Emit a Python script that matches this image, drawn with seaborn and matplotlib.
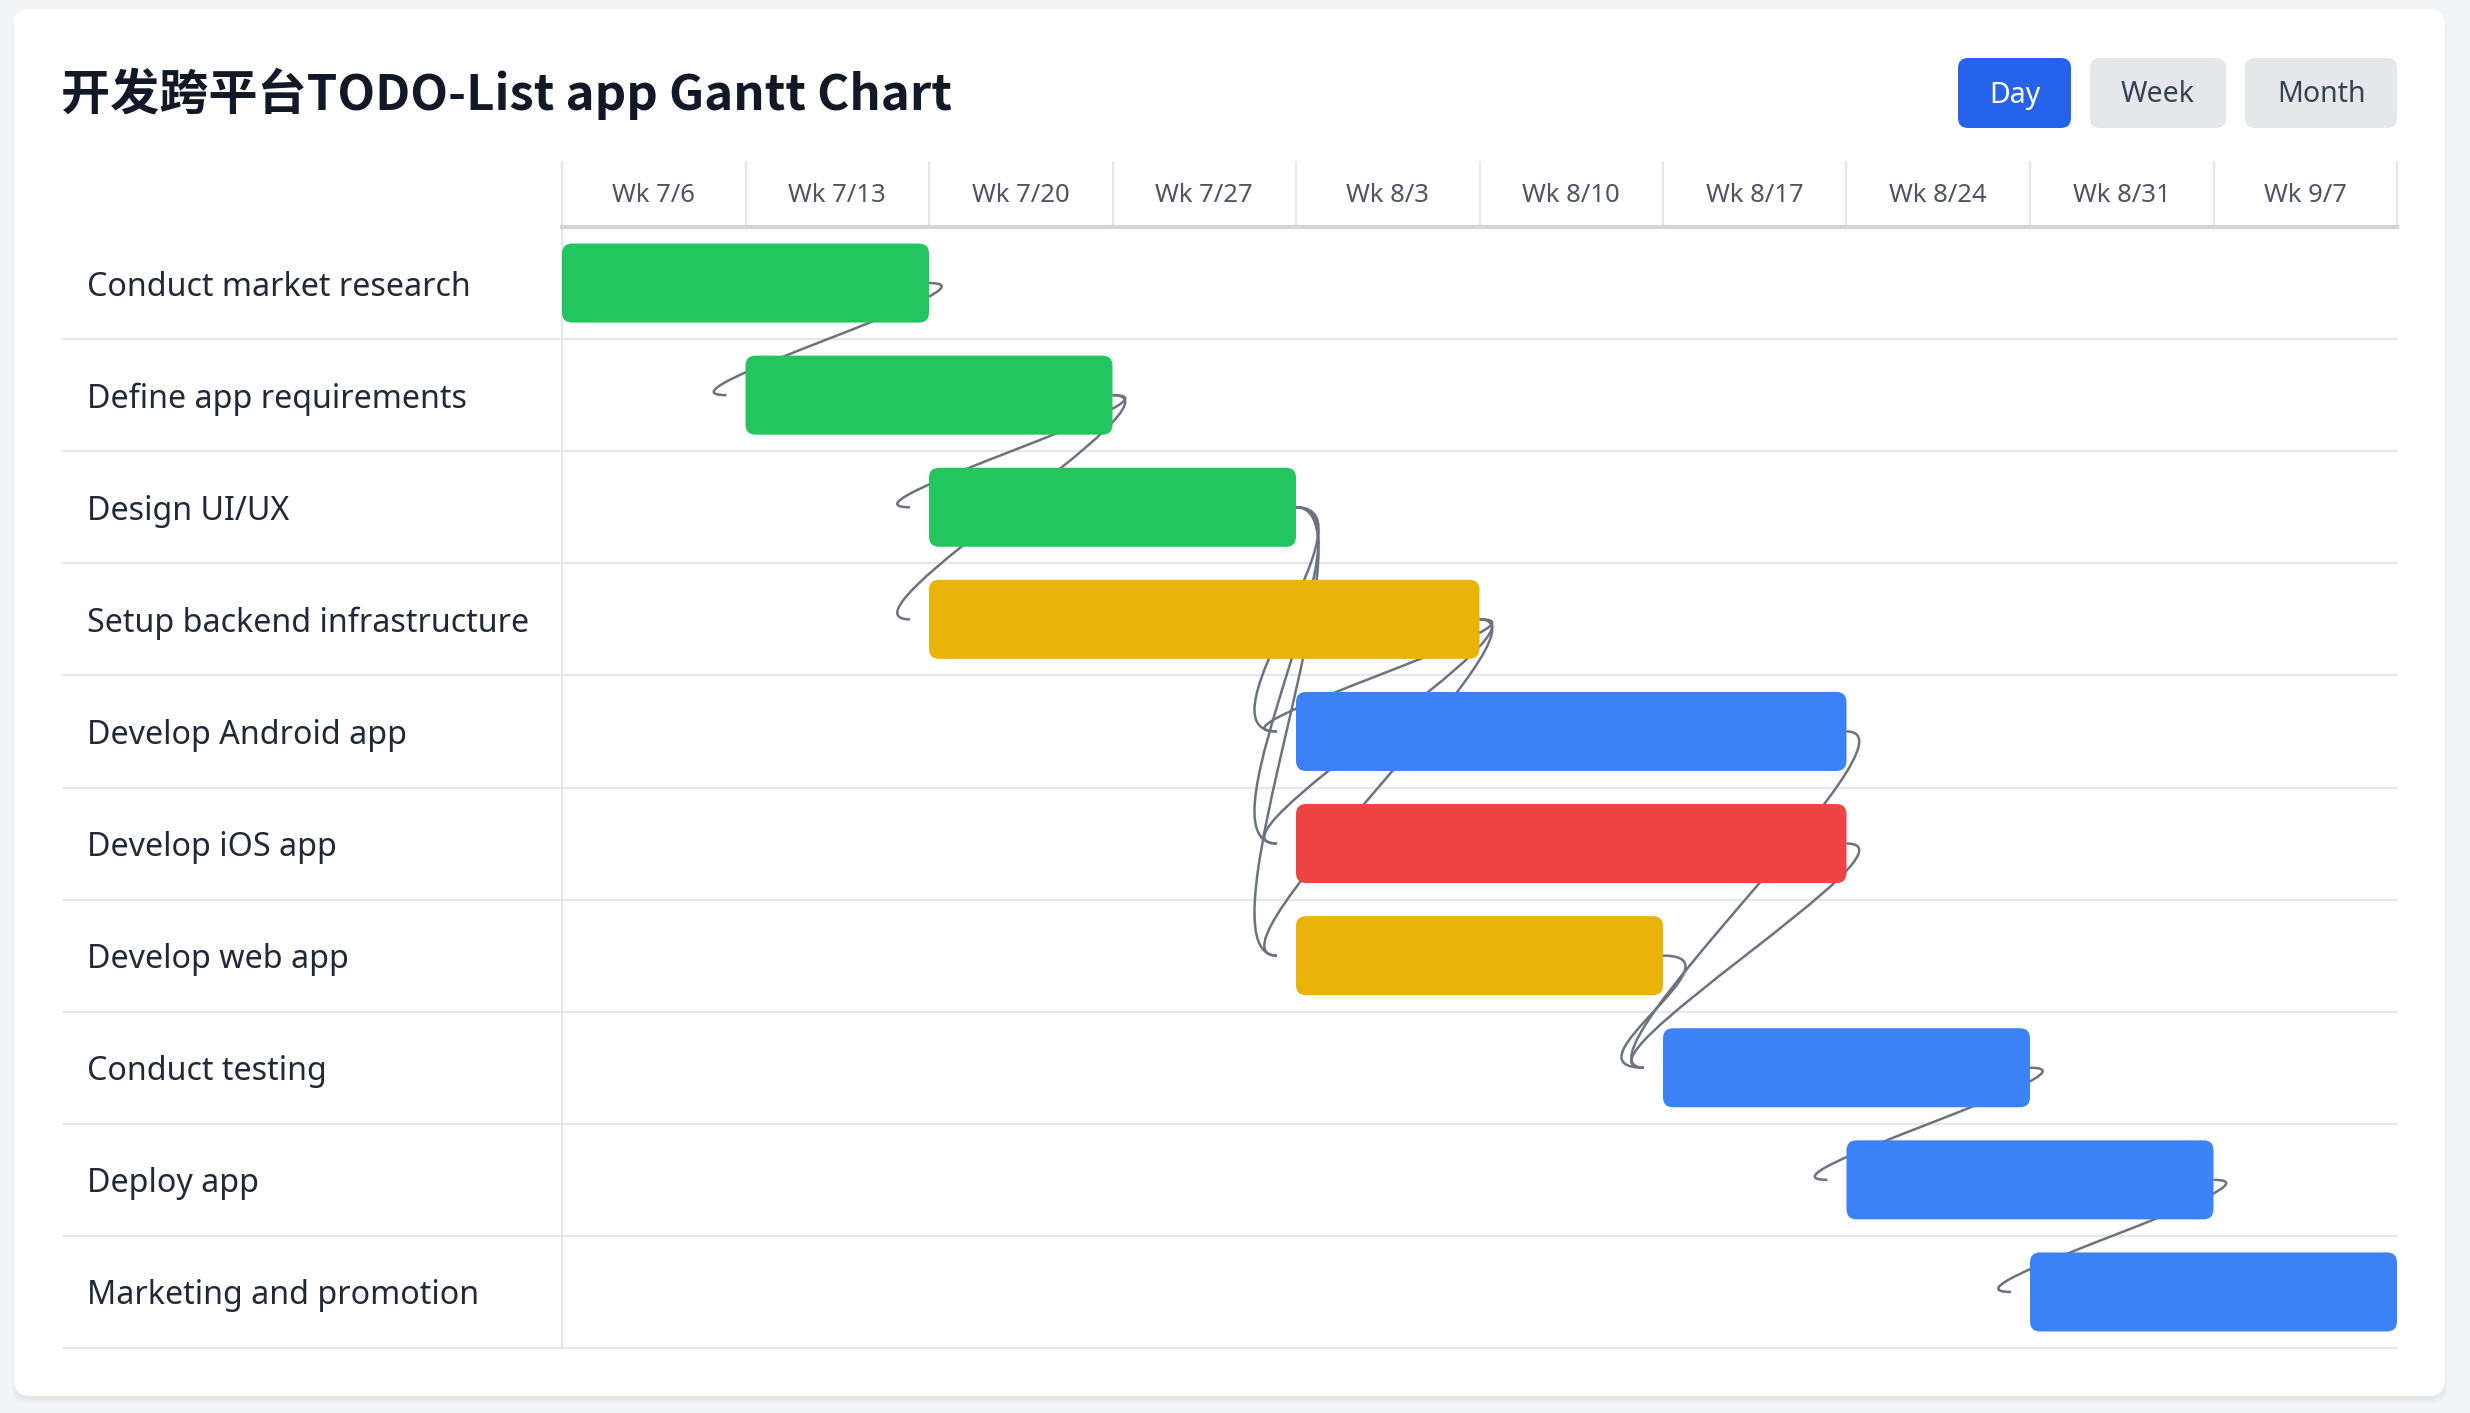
import numpy as np
import pandas as pd
import matplotlib
matplotlib.use('Agg')
import matplotlib.pyplot as plt
import seaborn as sns
from matplotlib.patches import FancyBboxPatch, PathPatch
from matplotlib.path import Path
from matplotlib.transforms import IdentityTransform, blended_transform_factory

# chart data
tasks = ['Conduct market research', 'Define app requirements', 'Design UI/UX',
         'Setup backend infrastructure', 'Develop Android app', 'Develop iOS app',
         'Develop web app', 'Conduct testing', 'Deploy app', 'Marketing and promotion']
start_dates = ['2025-07-06', '2025-07-13', '2025-07-20', '2025-07-20', '2025-08-03',
               '2025-08-03', '2025-08-03', '2025-08-17', '2025-08-24', '2025-08-31']
end_dates = ['2025-07-20', '2025-07-27', '2025-08-03', '2025-08-10', '2025-08-24',
             '2025-08-24', '2025-08-17', '2025-08-31', '2025-09-07', '2025-09-14']
bar_colors = ['#22C55E', '#22C55E', '#22C55E', '#EAB308', '#3B82F6', '#EF4444',
              '#EAB308', '#3B82F6', '#3B82F6', '#3B82F6']
# (predecessor, successor) pairs by task index
dependencies = [(0, 1), (1, 2), (1, 3), (2, 4), (2, 5), (2, 6), (3, 4), (3, 5), (3, 6),
                (4, 7), (5, 7), (6, 7), (7, 8), (8, 9)]
week_labels = ['Wk 7/6', 'Wk 7/13', 'Wk 7/20', 'Wk 7/27', 'Wk 8/3',
               'Wk 8/10', 'Wk 8/17', 'Wk 8/24', 'Wk 8/31', 'Wk 9/7']
view_buttons = ['Day', 'Week', 'Month']
title = '开发跨平台TODO-List app Gantt Chart'

chart_start = pd.Timestamp('2025-07-06')
chart_end = pd.Timestamp('2025-09-14')

df = pd.DataFrame({'task': tasks,
                   'start': (pd.to_datetime(start_dates) - chart_start).days,
                   'end': (pd.to_datetime(end_dates) - chart_start).days})
df['dur'] = df['end'] - df['start']
n_days = (chart_end - chart_start).days

sns.set_theme(style='white')
plt.rcParams['font.family'] = ['Noto Sans', 'Noto Sans CJK SC', 'DejaVu Sans']

W, H = 2470, 1413
fig = plt.figure(figsize=(W / 100, H / 100), dpi=100)
fig.patch.set_facecolor('#F3F4F6')


def px_box(x0, y0, x1, y1, r, **kw):
    # rounded box in output pixels, y measured from the top
    p = FancyBboxPatch((x0, H - y1), x1 - x0, y1 - y0,
                       boxstyle='round,pad=0,rounding_size=%s' % r,
                       transform=IdentityTransform(), **kw)
    fig.add_artist(p)
    return p


# card with a soft shadow
for i, a in enumerate([0.05, 0.05, 0.06]):
    px_box(14 - 2 + i, 9 + 4 - i, 2445 + 2 - i, 1396 + 8 - 2 * i, 18, facecolor='#9CA3AF',
           edgecolor='none', alpha=a, zorder=-3)
px_box(14, 9, 2445, 1396, 16, facecolor='white', edgecolor='none', zorder=-2)

# title
fig.text(61 / W, 1 - 94 / H, title, fontsize=35.4, fontweight='bold', color='#111827',
         ha='left', va='center', family=['Noto Sans CJK SC', 'DejaVu Sans'])

# view buttons
btn_x = [(1958, 2071), (2090, 2226), (2245, 2397)]
for name, (x0, x1) in zip(view_buttons, btn_x):
    active = name == 'Day'
    px_box(x0, 58, x1, 128, 10, facecolor='#2563EB' if active else '#E5E7EB',
           edgecolor='none', zorder=-1)
    fig.text((x0 + x1) / 2 / W, 1 - 95 / H, name, fontsize=20.5,
             color='white' if active else '#374151', ha='center', va='center')

# timeline axes
ax_l, ax_r, ax_t, ax_b = 562, 2397, 227, 1348
ax = fig.add_axes([ax_l / W, 1 - ax_b / H, (ax_r - ax_l) / W, (ax_b - ax_t) / H])
ax.patch.set_alpha(0)

sns.barplot(data=df, y='task', x='dur', hue='task', hue_order=tasks, order=tasks,
            palette=bar_colors, saturation=1, legend=False, width=0.705, ax=ax)

ax.set_xlim(0, n_days)
ax.set_ylim(len(tasks) - 0.5, -0.5)
ax.set_xlabel('')
ax.set_ylabel('')

px_day = (ax_r - ax_l) / n_days
px_row = (ax_b - ax_t) / len(tasks)

# turn the plain bars into rounded, floating bars
old = list(ax.patches)
for p in old:
    row = int(round(p.get_y() + p.get_height() / 2))
    color = p.get_facecolor()
    p.remove()
    rb = FancyBboxPatch((df['start'][row], p.get_y()), df['dur'][row], p.get_height(),
                        boxstyle='round,pad=0,rounding_size=%s' % (10 / px_day),
                        mutation_aspect=px_day / px_row,
                        facecolor=color, edgecolor='none', zorder=3)
    ax.add_patch(rb)

# dependency curves
bend = 85 / px_day
gap = 19 / px_day
for a, b in dependencies:
    x1, y1 = df['end'][a], a
    x2, y2 = df['start'][b] - gap, b
    path = Path([(x1, y1), (x1 + bend, y1), (x2 - bend, y2), (x2, y2)],
                [Path.MOVETO, Path.CURVE4, Path.CURVE4, Path.CURVE4])
    ax.add_patch(PathPatch(path, facecolor='none', edgecolor='#6B7280', lw=1.8, zorder=2))

# row separators across label column and timeline
trans_rows = blended_transform_factory(fig.transFigure, ax.transData)
for k in range(len(tasks)):
    ax.plot([63 / W, ax_r / W], [k + 0.5, k + 0.5], color='#E5E7EB', lw=1.5,
            transform=trans_rows, clip_on=False, zorder=1)

# header week separators
trans_head = blended_transform_factory(ax.transData, ax.transAxes)
head_top = 1 + (ax_t - 161) / (ax_b - ax_t)
ax.vlines(np.arange(0, n_days + 1, 7), 1, head_top, color='#E5E7EB', lw=1.5,
          transform=trans_head, clip_on=False)

# y labels on the left, left aligned
ax.set_yticks(range(len(tasks)))
ax.set_yticklabels(tasks, ha='left', fontsize=23.2, color='#1F2937')
ax.tick_params(axis='y', length=0, pad=(ax_l - 87) * 0.72)

# week header on top
ax.xaxis.tick_top()
ax.set_xticks(np.arange(3.5, n_days, 7))
ax.set_xticklabels(week_labels, fontsize=18.5, color='#4B5563')
ax.tick_params(axis='x', length=0, pad=14)

for s in ['right', 'bottom']:
    ax.spines[s].set_visible(False)
ax.spines['left'].set_color('#E5E7EB')
ax.spines['left'].set_linewidth(1.5)
ax.spines['top'].set_color('#D1D5DB')
ax.spines['top'].set_linewidth(3)
ax.grid(False)

plt.savefig('out.png', dpi=100, facecolor=fig.get_facecolor())
